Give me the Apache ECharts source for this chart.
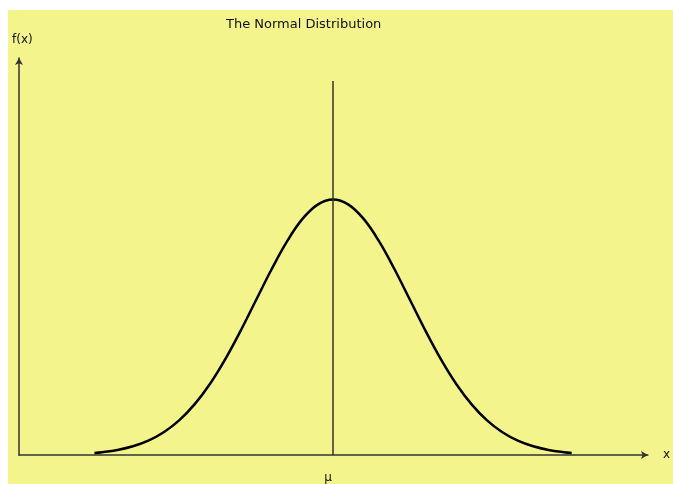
<!DOCTYPE html>
<html>
<head>
<meta charset="utf-8">
<script src="https://cdn.jsdelivr.net/npm/echarts@6/dist/echarts.min.js"></script>
<style>
  html, body { margin: 0; padding: 0; background: #fff; }
  #paper { position: absolute; left: 8px; top: 10px; width: 665px; height: 474px; background: #f4f48c; }
  #chart { position: absolute; left: 0; top: 0; width: 673px; height: 484px; }
</style>
</head>
<body>
<div id="paper"></div>
<div id="chart"></div>
<script>
// x in units of sigma
const xs = [-3.1, -3, -2.8, -2.6, -2.4, -2.2, -2, -1.8, -1.6, -1.4, -1.2, -1, -0.8, -0.6, -0.4, -0.2, 0,
  0.2, 0.4, 0.6, 0.8, 1, 1.2, 1.4, 1.6, 1.8, 2, 2.2, 2.4, 2.6, 2.8, 3, 3.1]
const fx = [0.0033, 0.0044, 0.0079, 0.0136, 0.0224, 0.0355, 0.054, 0.079, 0.1109, 0.1497, 0.1942, 0.242, 0.2897, 0.3332, 0.3683, 0.391, 0.3989,
  0.391, 0.3683, 0.3332, 0.2897, 0.242, 0.1942, 0.1497, 0.1109, 0.079, 0.054, 0.0355, 0.0224, 0.0136, 0.0079, 0.0044, 0.0033]
const muLineTop = 0.584
const tickLabels = ['μ']

const chart = echarts.init(document.getElementById('chart'))
const font = 'DejaVu Sans'

const option = {
  animation: false,
  title: {
    text: 'The Normal Distribution',
    left: 226,
    top: 18,
    padding: 0,
    textStyle: { fontFamily: font, fontSize: 13, fontWeight: 'normal', color: '#111' }
  },
  grid: { left: 19, right: 25, top: 58, bottom: 26 },
  xAxis: {
    type: 'value',
    min: -4.08,
    max: 4.09,
    name: 'x',
    nameLocation: 'end',
    nameGap: 15,
    nameTextStyle: { fontFamily: font, fontSize: 12, color: '#111' },
    axisLine: {
      onZero: false,
      symbol: ['none', 'arrow'],
      symbolSize: [6, 7],
      lineStyle: { color: '#333', width: 1.5 }
    },
    axisTick: { show: false },
    splitLine: { show: false },
    axisLabel: {
      customValues: [0],
      formatter: () => tickLabels[0],
      margin: 17,
      padding: [0, 10, 0, 0],
      fontFamily: font,
      fontSize: 12,
      color: '#111'
    }
  },
  yAxis: {
    type: 'value',
    min: 0,
    max: 0.62,
    name: 'f(x)',
    nameLocation: 'end',
    nameGap: 12,
    nameTextStyle: { fontFamily: font, fontSize: 12, color: '#111', align: 'left', padding: [0, 0, 0, -7] },
    axisLine: {
      show: true,
      onZero: false,
      symbol: ['none', 'arrow'],
      symbolSize: [6, 7],
      lineStyle: { color: '#333', width: 1.5 }
    },
    axisTick: { show: false },
    axisLabel: { show: false },
    splitLine: { show: false }
  },
  series: [
    {
      type: 'line',
      data: xs.map((x, i) => [x, fx[i]]),
      smooth: 0.4,
      showSymbol: false,
      lineStyle: { color: '#000', width: 2.5 },
      markLine: {
        silent: true,
        symbol: 'none',
        label: { show: false },
        lineStyle: { color: '#333', width: 1.5, type: 'solid' },
        data: [[{ coord: [0, 0] }, { coord: [0, muLineTop] }]]
      }
    }
  ]
}

chart.setOption(option)
</script>
</body>
</html>
